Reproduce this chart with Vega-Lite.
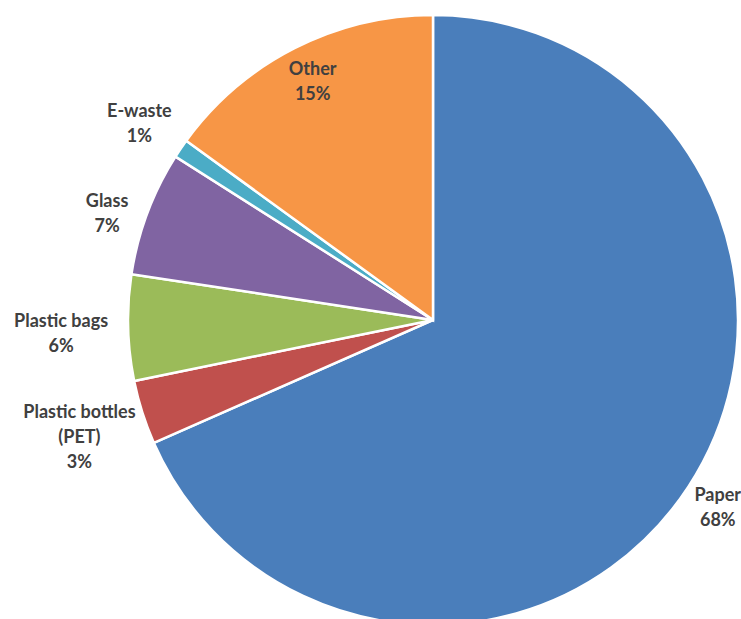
{
  "$schema": "https://vega.github.io/schema/vega-lite/v6.json",
  "width": 616,
  "height": 598,
  "autosize": "none",
  "padding": {"left": 125, "top": 21, "right": 0, "bottom": 0},
  "background": "white",
  "config": {
    "view": {"stroke": null},
    "text": {"font": "Lato", "fontWeight": "bold", "fontSize": 18, "lineHeight": 25, "color": "#404040", "align": "center", "baseline": "middle"}
  },
  "data": {
    "values": [
      {"name": "Paper", "value": 0.684, "rank": 1, "label": ["Paper", "68%"]},
      {"name": "Plastic bottles (PET)", "value": 0.034, "rank": 2, "label": ["Plastic bottles", "(PET)", "3%"]},
      {"name": "Plastic bags", "value": 0.056, "rank": 3, "label": ["Plastic bags", "6%"]},
      {"name": "Glass", "value": 0.066, "rank": 4, "label": ["Glass", "7%"]},
      {"name": "E-waste", "value": 0.010, "rank": 5, "label": ["E-waste", "1%"]},
      {"name": "Other", "value": 0.150, "rank": 6, "label": ["Other", "15%"]}
    ]
  },
  "encoding": {
    "theta": {"field": "value", "type": "quantitative", "stack": true},
    "order": {"field": "rank", "type": "quantitative"}
  },
  "layer": [
    {
      "mark": {"type": "arc", "radius": 305, "stroke": "white", "strokeWidth": 2.5},
      "encoding": {
        "color": {
          "field": "name",
          "type": "nominal",
          "scale": {
            "domain": ["Paper", "Plastic bottles (PET)", "Plastic bags", "Glass", "E-waste", "Other"],
            "range": ["#4A7EBB", "#C0504D", "#9BBB59", "#8064A2", "#4BACC6", "#F79646"]
          },
          "legend": null
        }
      }
    },
    {
      "mark": {"type": "text", "radius": 265, "dy": -14},
      "encoding": {"text": {"condition": {"test": "datum.name === 'Other'", "field": "label"}, "value": ""}}
    },
    {
      "mark": {"type": "text", "radius": 340, "dy": -10},
      "encoding": {"text": {"condition": {"test": "datum.name === 'Paper'", "field": "label"}, "value": ""}}
    },
    {
      "mark": {"type": "text", "radius": 348, "dy": 4},
      "encoding": {"text": {"condition": {"test": "datum.name === 'Glass'", "field": "label"}, "value": ""}}
    },
    {
      "mark": {"type": "text", "radius": 355, "dy": -8},
      "encoding": {"text": {"condition": {"test": "datum.name === 'E-waste'", "field": "label"}, "value": ""}}
    },
    {
      "mark": {"type": "text", "radius": 372, "dy": -7},
      "encoding": {"text": {"condition": {"test": "datum.name === 'Plastic bags'", "field": "label"}, "value": ""}}
    },
    {
      "mark": {"type": "text", "radius": 371, "dy": -19},
      "encoding": {"text": {"condition": {"test": "datum.name === 'Plastic bottles (PET)'", "field": "label"}, "value": ""}}
    }
  ]
}
